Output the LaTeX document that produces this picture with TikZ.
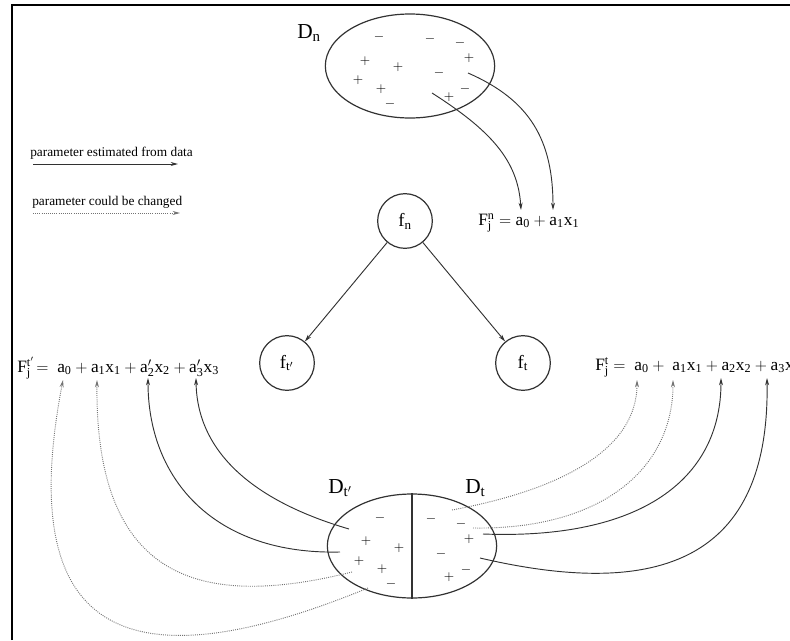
\documentclass[tikz,border=0pt]{standalone}
\usepackage{fontspec}
\setmainfont{Liberation Serif}
\usepackage{tikz}
\usetikzlibrary{arrows.meta,positioning,shapes.geometric}
\definecolor{lineink}{RGB}{50,50,50}
\definecolor{dotink}{RGB}{115,115,115}

\begin{document}
\begin{tikzpicture}[
    x=0.75pt, y=-0.75pt,
    dataset/.style={ellipse, draw=lineink, line width=0.9pt,
                    minimum width=127pt, minimum height=78pt, inner sep=0pt},
    func/.style={circle, draw=lineink, line width=0.9pt,
                 minimum size=41pt, inner sep=0pt, font=\fontsize{14}{16}\selectfont},
    sign/.style={font=\fontsize{10}{11}\selectfont, inner sep=0pt},
    setname/.style={font=\fontsize{16}{18}\selectfont, anchor=base west, inner sep=0pt},
    formula/.style={font=\fontsize{13}{15}\selectfont, anchor=base west, inner sep=0pt},
    legend/.style={font=\fontsize{10}{12}\selectfont, anchor=base west, inner sep=0pt},
    est/.style={draw=lineink, line width=0.7pt, -{Stealth[length=5.5pt,width=3pt]}},
    chg/.style={draw=dotink, line width=0.7pt, dash pattern=on 0.7pt off 0.9pt,
                -{Stealth[length=5.5pt,width=3pt]}}
  ]
  \useasboundingbox (0,0) rectangle (790,640);
  \clip (0,0) rectangle (790,640);

  %% Frame
  \draw[line width=1.5pt] (12,640) -- (12,5) -- (790,5);

  %% Legend
  \node[legend] (lgest) at (30,156) {parameter estimated from data};
  \node[legend] (lgchg) at (32,205) {parameter could be changed};
  \coordinate (le1) at (33,164);
  \coordinate (le2) at (178,164);
  \coordinate (lc1) at (33,213);
  \coordinate (lc2) at (180,213);
  \draw[est] (le1) -- (le2);
  \draw[chg] (lc1) -- (lc2);

  %% Data set D_n
  \node[dataset] (Dn) at (410,66) {};
  \node[setname] (Dnlab) at (297,38) {$\mathrm{D_n}$};
  \foreach \x/\y/\s [count=\i] in {379/37/-, 430/39/-, 460/43/-, 469/58/+,
      365/61/+, 398/67/+, 439/73/-, 358/80/+, 465/89/-, 381/89/+,
      449/97/+, 390/104/-}
    \node[sign] (dn\i) at (\x,\y) {$\s$};

  %% Functions
  \node[func] (fn) at (405,221) {$\mathrm{f_n}$};
  \node[func] (ftp) at (287,363) {$\mathrm{f_{t'}}$};
  \node[func] (ft) at (523,363) {$\mathrm{f_t}$};
  \draw[est] (fn) -- (ftp);
  \draw[est] (fn) -- (ft);

  %% Formulas
  \node[formula] (Fn) at (478,225) {$\mathrm{F^n_j = a_0 + a_1x_1}$};
  \node[formula] (Ftp) at (17,372)
    {$\mathrm{F^{t'}_j\!= \ a_0 + a_1x_1 + a'_2x_2 + a'_3x_3}$};
  \node[formula] (Ft) at (595,370)
    {$\mathrm{F^t_j = \ a_0 + \ a_1x_1 + a_2x_2 + a_3x_3}$};

  \coordinate (n0) at (521,210);
  \coordinate (n1) at (553,210);
  \coordinate (p0) at (63,380);
  \coordinate (p1) at (97,380);
  \coordinate (p2) at (148,378);
  \coordinate (p3) at (196,378);
  \coordinate (q0) at (637,380);
  \coordinate (q1) at (673,380);
  \coordinate (q2) at (721,378);
  \coordinate (q3) at (767,378);

  %% Split data set D_t' | D_t
  \node[dataset] (Dt) at (412,546) {};
  \draw[lineink, line width=0.9pt] (Dt.north) -- (Dt.south);
  \node[setname] (Dtplab) at (328,493) {$\mathrm{D_{t'}}$};
  \node[setname] (Dtlab) at (465,493) {$\mathrm{D_t}$};
  \foreach \x/\y/\s [count=\i] in {380/518/-, 366/541/+, 399/548/+,
      359/561/+, 382/569/+, 391/584/-}
    \node[sign] (dtp\i) at (\x,\y) {$\s$};
  \foreach \x/\y/\s [count=\i] in {431/519/-, 461/524/-, 469/539/+,
      441/554/-, 466/570/-, 449/577/+}
    \node[sign] (dt\i) at (\x,\y) {$\s$};

  %% Estimation links from D_n
  \coordinate (sn0) at (432,93);
  \coordinate (sn1) at (468,73);
  \draw[est] (sn0) .. controls (490,130) and (518,160) .. (n0);
  \draw[est] (sn1) .. controls (530,100) and (553,140) .. (n1);

  %% Links from D_t'
  \coordinate (sp3) at (349,529);
  \coordinate (sp2) at (340,552);
  \coordinate (sp1) at (352,572);
  \coordinate (sp0) at (368,588);
  \draw[est] (sp3) .. controls (250,500) and (197,450) .. (p3);
  \draw[est] (sp2) .. controls (215,555) and (148,480) .. (p2);
  \draw[chg] (sp1) .. controls (200,610) and (95,580) .. (p1);
  \draw[chg] (sp0) .. controls (120,690) and (15,630) .. (p0);

  %% Links from D_t
  \coordinate (st0) at (452,510);
  \coordinate (st1) at (473,528);
  \coordinate (st2) at (483,534);
  \coordinate (st3) at (480,558);
  \draw[chg] (st0) .. controls (560,490) and (637,450) .. (q0);
  \draw[chg] (st1) .. controls (600,530) and (673,470) .. (q1);
  \draw[est] (st2) .. controls (640,540) and (721,480) .. (q2);
  \draw[est] (st3) .. controls (660,600) and (770,560) .. (q3);

\end{tikzpicture}
\end{document}
